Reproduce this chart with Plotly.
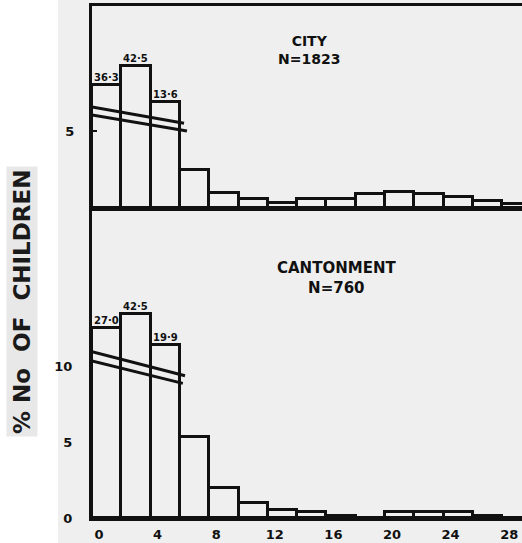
import plotly.graph_objects as go

# ---- data ----
bin_left = [0, 2, 4, 6, 8, 10, 12, 14, 16, 18, 20, 22, 24, 26, 28]

city_pct = [36.3, 42.5, 13.6, 2.5, 1.0, 0.6, 0.3, 0.6, 0.6, 0.9, 1.05, 0.9, 0.7, 0.45, 0.25]
city_broken_top = [8.0, 9.2, 6.9]          # drawn height of the three broken bars
city_labels = ["36·3", "42·5", "13·6"]

cant_pct = [27.0, 42.5, 19.9, 5.3, 2.0, 1.0, 0.5, 0.4, 0.15, 0.0, 0.4, 0.4, 0.4, 0.15, 0.0]
cant_broken_top = [12.5, 13.4, 11.4]
cant_labels = ["27·0", "42·5", "19·9"]

x_ticks = [0, 4, 8, 12, 16, 20, 24, 28]
city_yticks = [5]
cant_yticks = [0, 5, 10]

# break marks (pairs of parallel strokes across the broken bars)
city_break = [((0, 6.56), (6.28, 5.5)), ((0, 6.04), (6.48, 5.0))]
cant_break = [((0, 10.94), (6.35, 9.36)), ((0, 10.33), (6.2, 8.86))]

BG = "#efefef"
INK = "#111111"
FONT = "DejaVu Sans"

def drawn(vals, broken):
    return [broken[i] if i < len(broken) else v for i, v in enumerate(vals)]

fig = go.Figure()
fig.add_trace(go.Bar(x=bin_left, y=drawn(city_pct, city_broken_top), width=2, offset=0,
                     marker=dict(color=BG, line=dict(color=INK, width=3)),
                     xaxis="x", yaxis="y", showlegend=False, hoverinfo="skip"))
fig.add_trace(go.Bar(x=bin_left, y=drawn(cant_pct, cant_broken_top), width=2, offset=0,
                     marker=dict(color=BG, line=dict(color=INK, width=3)),
                     xaxis="x2", yaxis="y2", showlegend=False, hoverinfo="skip"))

shapes = [dict(type="rect", xref="paper", yref="paper", x0=-0.0791, x1=1.0,
               y0=-0.05, y1=1.02, fillcolor=BG, line=dict(width=0), layer="below")]
for (a, b) in city_break:
    shapes.append(dict(type="line", xref="x", yref="y", x0=a[0], y0=a[1], x1=b[0], y1=b[1],
                       line=dict(color=INK, width=3)))
for (a, b) in cant_break:
    shapes.append(dict(type="line", xref="x2", yref="y2", x0=a[0], y0=a[1], x1=b[0], y1=b[1],
                       line=dict(color=INK, width=3)))

annots = []
for i, t in enumerate(city_labels):
    annots.append(dict(x=bin_left[i] + 1, y=city_broken_top[i], xref="x", yref="y", text=t,
                       showarrow=False, yanchor="bottom", yshift=0,
                       font=dict(family=FONT, size=10, color=INK, weight="bold")))
for i, t in enumerate(cant_labels):
    annots.append(dict(x=bin_left[i] + 1, y=cant_broken_top[i], xref="x2", yref="y2", text=t,
                       showarrow=False, yanchor="bottom", yshift=0,
                       font=dict(family=FONT, size=10, color=INK, weight="bold")))
annots.append(dict(x=14.8, y=10.26, xref="x", yref="y", text="CITY<br>N=1823", showarrow=False,
                   font=dict(family=FONT, size=14, color=INK, weight="bold")))
annots.append(dict(x=16.7, y=15.8, xref="x2", yref="y2", text="CANTONMENT<br>N=760", showarrow=False,
                   font=dict(family=FONT, size=15, color=INK, weight="bold")))
annots.append(dict(x=-0.1628, y=0.4238, xref="paper", yref="paper", text="% No  OF  CHILDREN",
                   textangle=-90, showarrow=False, xanchor="center", yanchor="middle",
                   bgcolor="#e8e8e8", borderpad=2,
                   font=dict(family=FONT, size=23, color="#1a1a1a", weight="bold")))

tickfont = dict(family=FONT, size=13, color=INK, weight="bold")
split = 0.6055
fig.update_layout(
    width=522, height=543,
    margin=dict(l=92, r=0, t=6, b=25),
    paper_bgcolor="white", plot_bgcolor=BG,
    bargap=0,
    shapes=shapes, annotations=annots,
    xaxis=dict(domain=[0, 1], range=[0, 29.35], anchor="y", showticklabels=False,
               showline=True, mirror=True, linecolor=INK, linewidth=3, showgrid=False,
               zeroline=False, ticks=""),
    yaxis=dict(domain=[split, 1], range=[0, 13.12], anchor="x", tickvals=city_yticks,
               ticktext=[str(v) for v in city_yticks], ticks="inside", ticklen=5, tickwidth=2,
               tickcolor=INK, showline=True, linecolor=INK, linewidth=3, showgrid=False,
               zeroline=False, tickfont=tickfont, ticklabelstandoff=12),
    xaxis2=dict(domain=[0, 1], range=[0, 29.35], anchor="y2", tickvals=x_ticks,
                ticktext=[str(v) for v in x_ticks], ticks="", showline=True, linecolor=INK,
                linewidth=3, showgrid=False, zeroline=False, tickfont=tickfont,
                ticklabelshift=7, ticklabelstandoff=2),
    yaxis2=dict(domain=[0, split], range=[0, 20.4], anchor="x2", tickvals=cant_yticks,
                ticktext=[str(v) for v in cant_yticks], ticks="", showline=True, linecolor=INK,
                linewidth=3, showgrid=False, zeroline=False, tickfont=tickfont,
                ticklabelstandoff=14),
)

fig.write_html("out.html", config={"displayModeBar": False},
               post_script="document.body.style.margin='0';document.body.style.overflow='hidden';")
